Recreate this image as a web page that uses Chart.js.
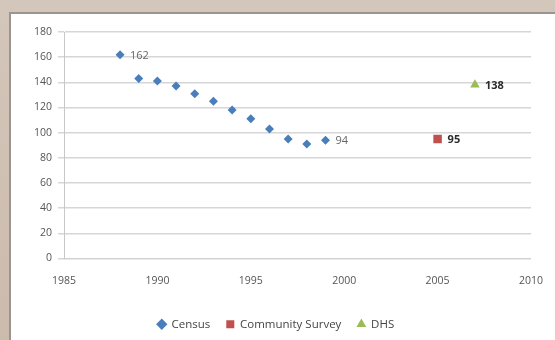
<!DOCTYPE html>
<html>
<head>
<meta charset="utf-8">
<script src="https://cdn.jsdelivr.net/npm/chart.js@4.4.1/dist/chart.umd.min.js"></script>
<style>
html,body{margin:0;padding:0;}
body{width:555px;height:340px;overflow:hidden;position:relative;
 background:linear-gradient(180deg,#d3c6ba 0%,#cbbbad 100%);}
#frame{position:absolute;left:9px;top:12px;width:546px;height:328px;background:#fff;
 border-left:2px solid #9a9590;border-top:2px solid #9a9590;box-sizing:border-box;}
#wrap{position:absolute;left:0;top:0;width:555px;height:340px;}
</style>
</head>
<body>
<div id="frame"></div>
<div id="wrap"><canvas id="c" width="555" height="340"></canvas></div>
<script>
const censusYears = [1988,1989,1990,1991,1992,1993,1994,1995,1996,1997,1998,1999];
const censusValues = [162,143,141,137,131,125,118,111,103,95,91,94];
const surveyYears = [2005];
const surveyValues = [95];
const dhsYears = [2007];
const dhsValues = [138];
const xTicks = [1985,1990,1995,2000,2005,2010];
const yTicks = [0,20,40,60,80,100,120,140,160,180];
// labels shown next to specific points: [datasetIndex, pointIndex, bold]
const pointLabels = [[0,0,false],[0,11,false],[1,0,true],[2,0,true]];

const toPts = (xs, ys) => xs.map((x,i)=>({x:x,y:ys[i]}));
const FONT = '"Open Sans", "DejaVu Sans", sans-serif';

const labelPlugin = {
  id:'pointLabels',
  afterDatasetsDraw(chart){
    const ctx = chart.ctx;
    ctx.save();
    ctx.textBaseline = 'middle';
    ctx.textAlign = 'left';
    pointLabels.forEach(([di,pi,bold])=>{
      const el = chart.getDatasetMeta(di).data[pi];
      const v = chart.data.datasets[di].data[pi].y;
      ctx.font = (bold?'bold ':'') + '11px ' + FONT;
      ctx.fillStyle = bold ? '#2b2b2b' : '#666666';
      ctx.fillText(String(v), el.x + 10, el.y + 1);
    });
    ctx.restore();
  }
};

new Chart(document.getElementById('c'), {
  type:'scatter',
  data:{datasets:[
    {label:'Census', data:toPts(censusYears,censusValues), pointStyle:'rectRot', pointRadius:4.5,
     backgroundColor:'#4a7ebb', borderColor:'#4a7ebb', borderWidth:0},
    {label:'Community Survey', data:toPts(surveyYears,surveyValues), pointStyle:'rect', pointRadius:6,
     backgroundColor:'#c0504d', borderColor:'#c0504d', borderWidth:0},
    {label:'DHS', data:toPts(dhsYears,dhsValues), pointStyle:'triangle', pointRadius:5.5,
     backgroundColor:'#9bbb59', borderColor:'#9bbb59', borderWidth:0}
  ]},
  options:{
    responsive:false, animation:false, devicePixelRatio:1,
    layout:{padding:{left:20,right:23,top:32,bottom:0}},
    plugins:{
      tooltip:{enabled:false},
      legend:{position:'bottom',
        labels:{usePointStyle:true, boxWidth:8, boxHeight:8, padding:16, color:'#444',
          font:{family:FONT, size:11.5}}}
    },
    scales:{
      x:{type:'linear', min:1985, max:2010,
        afterBuildTicks(s){ s.ticks = xTicks.map(v=>({value:v})); },
        grid:{display:false, drawOnChartArea:false, drawTicks:true, tickLength:4, color:'#bfbfbf'},
        border:{color:'#d0d0d0', width:1},
        ticks:{color:'#555', padding:12, maxRotation:0, callback:v=>String(v),
          font:{family:FONT, size:10.5}},
        afterFit(s){ s.height = 44; }
      },
      y:{min:0, max:180,
        afterBuildTicks(s){ s.ticks = yTicks.map(v=>({value:v})); },
        grid:{color:'#d6d6d6', lineWidth:1.5, drawTicks:true, tickLength:6},
        border:{color:'#c8c8c8', width:1},
        ticks:{color:'#555', padding:6, font:{family:FONT, size:10.5}},
        afterFit(s){ s.width = 44; }
      }
    }
  },
  plugins:[labelPlugin]
});
</script>
</body>
</html>
